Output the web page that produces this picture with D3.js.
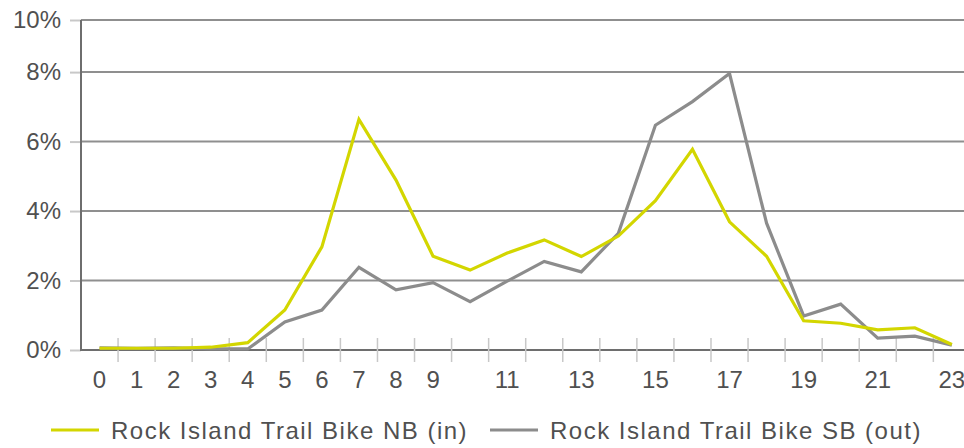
<!DOCTYPE html>
<html>
<head>
<meta charset="utf-8">
<script src="https://cdn.jsdelivr.net/npm/d3@7"></script>
<style>
  body { margin: 0; background: #fff; }
  text { font-family: "Liberation Sans", Arial, sans-serif; fill: #505050; }
</style>
</head>
<body>
<div id="chart"></div>
<script>
var hours = d3.range(0, 24);
var xLabels = ["0","1","2","3","4","5","6","7","8","9","","11","","13","","15","","17","","19","","21","","23"];
var yTicks = [0, 2, 4, 6, 8, 9.5];
var yTickLabels = ["0%", "2%", "4%", "6%", "8%", "10%"];

var nbValues = [0.05, 0.05, 0.05, 0.08, 0.21, 1.15, 2.97, 6.64, 4.89, 2.70, 2.30, 2.79,
                3.17, 2.69, 3.28, 4.30, 5.78, 3.69, 2.70, 0.84, 0.77, 0.58, 0.64, 0.16];
var sbValues = [0.06, 0.05, 0.06, 0.03, 0.03, 0.81, 1.15, 2.38, 1.73, 1.94, 1.39, 1.98,
                2.55, 2.25, 3.36, 6.47, 7.15, 7.96, 3.65, 0.98, 1.32, 0.34, 0.40, 0.14];

var seriesNames = ["Rock Island Trail Bike NB (in)", "Rock Island Trail Bike SB (out)"];
var seriesColors = ["#d3d600", "#8c8c8c"];

var width = 964,
    height = 448,
    plotLeft = 81,
    plotTop = 20,
    plotBottom = 350,
    plotRight = 970.4;

var svg = d3.select("#chart").append("svg")
    .attr("width", width)
    .attr("height", height);

var x = d3.scaleBand()
    .domain(hours)
    .range([plotLeft, plotRight]);

var xEdge = d3.scaleLinear()
    .domain([0, 24])
    .range([plotLeft, plotRight]);

var y = d3.scaleLinear()
    .domain([0, 9.5])
    .range([plotBottom, plotTop]);

// horizontal grid lines
svg.append("g")
  .selectAll("line")
    .data(yTicks)
  .enter().append("line")
    .attr("x1", plotLeft)
    .attr("x2", width)
    .attr("y1", function(d) { return y(d); })
    .attr("y2", function(d) { return y(d); })
    .style("stroke", function(d) { return d === 0 ? "#6e6e6e" : "#8f8f8f"; })
    .style("stroke-width", 2);

// y axis
var yAxis = svg.append("g")
    .attr("transform", "translate(" + plotLeft + ",0)")
    .call(d3.axisLeft(y)
      .tickValues(yTicks)
      .tickFormat(function(d, i) { return yTickLabels[i]; })
      .tickSize(11)
      .tickPadding(9));
yAxis.select(".domain").remove();
yAxis.selectAll("line").style("stroke", "#c8c8c8").style("stroke-width", 2);
yAxis.selectAll("text")
    .style("font-size", "24px")
    .style("fill", "#505050");

svg.append("line")
    .attr("x1", plotLeft).attr("x2", plotLeft)
    .attr("y1", plotTop).attr("y2", plotBottom + 1)
    .style("stroke", "#6e6e6e")
    .style("stroke-width", 2);

// x tick marks at the band edges
svg.append("g")
  .selectAll("line")
    .data(hours.slice(1))
  .enter().append("line")
    .attr("x1", function(d) { return xEdge(d); })
    .attr("x2", function(d) { return xEdge(d); })
    .attr("y1", plotBottom - 12)
    .attr("y2", plotBottom + 12)
    .style("stroke", "#c8c8c8")
    .style("stroke-width", 1.5);

// x labels
var xAxis = svg.append("g")
    .attr("transform", "translate(0," + plotBottom + ")")
    .call(d3.axisBottom(x)
      .tickFormat(function(d, i) { return xLabels[i]; })
      .tickSize(0)
      .tickPadding(21));
xAxis.select(".domain").remove();
xAxis.selectAll("text")
    .style("font-size", "24px")
    .style("fill", "#505050");

// lines
var line = d3.line()
    .x(function(d, i) { return x(hours[i]) + x.bandwidth() / 2; })
    .y(function(d) { return y(d); });

[sbValues, nbValues].forEach(function(vals, k) {
  svg.append("path")
      .datum(vals)
      .attr("d", line)
      .style("fill", "none")
      .style("stroke", seriesColors[1 - k])
      .style("stroke-width", 3.2)
      .style("stroke-linejoin", "miter");
});

// legend
var legendX = [51, 490];
var legend = svg.selectAll(".legend")
    .data(seriesNames)
  .enter().append("g")
    .attr("class", "legend")
    .attr("transform", function(d, i) { return "translate(" + legendX[i] + ",430)"; });

legend.append("line")
    .attr("x1", 0).attr("x2", 48)
    .style("stroke", function(d, i) { return seriesColors[i]; })
    .style("stroke-width", 3.2);

legend.append("text")
    .attr("x", 60)
    .attr("y", 9)
    .style("font-size", "24px")
    .style("letter-spacing", "1.5px")
    .text(function(d) { return d; });
</script>
</body>
</html>
